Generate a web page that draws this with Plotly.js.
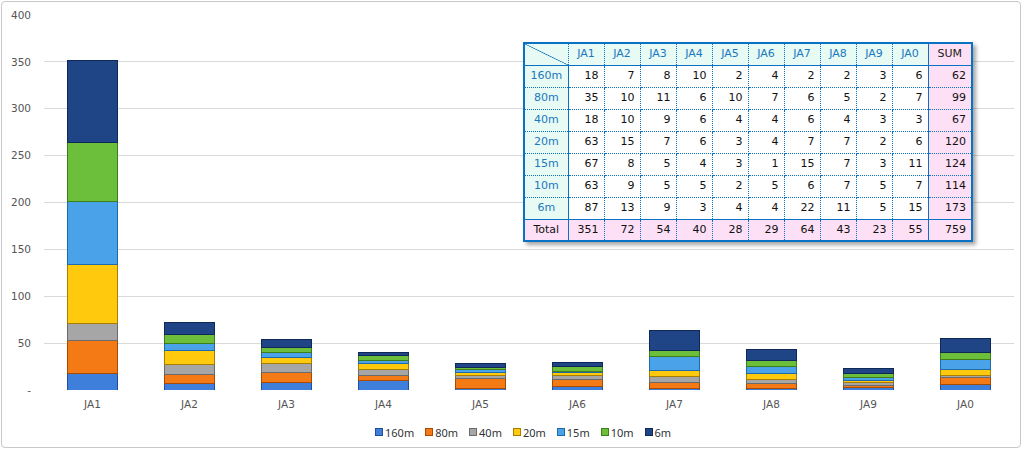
<!DOCTYPE html>
<html>
<head>
<meta charset="utf-8">
<script src="https://cdn.plot.ly/plotly-3.0.1.min.js"></script>
<style>
  html, body { margin:0; padding:0; background:#fff; }
  #wrap { position:relative; width:1024px; height:451px; overflow:hidden; }
  #frame { position:absolute; left:1px; top:1px; width:1020px; height:447px; border:1px solid #c8c8c8; border-radius:4px; box-sizing:border-box; pointer-events:none; }
  #chart { position:absolute; left:0; top:0; width:1024px; height:451px; }
  #tbl { position:absolute; left:523px; top:42px; width:448px; border-collapse:collapse; table-layout:fixed;
         font-family:"DejaVu Sans", Verdana, sans-serif; font-size:11px; box-shadow:3px 3px 4px rgba(0,0,0,0.35); background:#fff;
         border:2px solid #0a72c4; }
  #tbl tr { height:22px; }
  #tbl td { border:1px dotted #0a72c4; padding:0 5px; height:20px; line-height:12px; text-align:right; color:#111; white-space:nowrap; box-sizing:border-box; }
  #tbl td.hd { background:#e8faf4; color:#1a78c0; text-align:center; }
  #tbl tr.top td { border-bottom:1.5px solid #0a72c4; }
  #tbl td.rh { background:#e8faf4; color:#1a78c0; text-align:center; border-right:1.5px solid #0a72c4; }
  #tbl td.sum { background:#fde0f6; border-left:1.5px solid #0a72c4; }
  #tbl td.sumh { background:#fde0f6; color:#222; text-align:center; border-left:1.5px solid #0a72c4; }
  #tbl tr.tot td { background:#fde0f6; border-top:1.5px solid #0a72c4; }
  #tbl tr.tot td.rh { color:#111; }
  #tbl td.corner { background-color:#e8faf4;
     background-image:linear-gradient(to top right, transparent calc(50% - 0.7px), #0a72c4 50%, transparent calc(50% + 0.7px)); }
  #legend { position:absolute; left:375px; top:425px; height:14px; display:flex; align-items:center;
            font-family:"Noto Sans", "DejaVu Sans", sans-serif; font-size:11px; color:#333; white-space:nowrap; }
  #legend .it { display:flex; align-items:center; margin-right:11px; }
  #legend .sw { width:8px; height:8px; margin-right:2px; box-sizing:border-box; border:1px solid; }
</style>
</head>
<body>
<div id="wrap">
  <div id="chart"></div>
  <table id="tbl"></table>
  <div id="legend"></div>
  <div id="frame"></div>
</div>
<script>
// ---- data ----
var stations = ["JA1","JA2","JA3","JA4","JA5","JA6","JA7","JA8","JA9","JA0"];
var bands = ["160m","80m","40m","20m","15m","10m","6m"];
var v160 = [18, 7, 8,10, 2, 4, 2, 2, 3, 6];
var v80  = [35,10,11, 6,10, 7, 6, 5, 2, 7];
var v40  = [18,10, 9, 6, 4, 4, 6, 4, 3, 3];
var v20  = [63,15, 7, 6, 3, 4, 7, 7, 2, 6];
var v15  = [67, 8, 5, 4, 3, 1,15, 7, 3,11];
var v10  = [63, 9, 5, 5, 2, 5, 6, 7, 5, 7];
var v6   = [87,13, 9, 3, 4, 4,22,11, 5,15];
var yTickVals = [0,50,100,150,200,250,300,350,400];
var yTickText = ["-","50","100","150","200","250","300","350","400"];

var series = [v160, v80, v40, v20, v15, v10, v6];
var fills = ["#3d7fdb","#f47a16","#a6a6a6","#ffc90e","#4aa3e8","#6cbf3a","#1f4586"];
var lines = ["#1f4f9a","#a84a00","#6a6a6a","#a87e00","#1f6aa8","#3f7d1a","#0f2858"];

var traces = bands.map(function(b, i){
  return {
    type:"bar", name:b, x:stations, y:series[i],
    marker:{color:fills[i], line:{color:lines[i], width:1}},
    hoverinfo:"x+y+name"
  };
});

var tf = {family:"DejaVu Sans, Verdana, sans-serif", size:10.5, color:"#555"};
var layout = {
  width:1024, height:451,
  margin:{l:44, r:10, t:15, b:61},
  barmode:"stack", bargap:0.49,
  paper_bgcolor:"#fff", plot_bgcolor:"#fff",
  font:tf,
  showlegend:false,
  xaxis:{type:"category", showgrid:false, showline:false, ticks:"", ticklen:0,
         automargin:false, tickfont:tf, ticklabelstandoff:6},
  yaxis:{range:[0,400], tickvals:yTickVals, ticktext:yTickText, showgrid:true,
         gridcolor:"#d9d9d9", gridwidth:1, zeroline:false, showline:false, ticks:"",
         automargin:false, ticklabelstandoff:12, tickfont:tf}
};

Plotly.newPlot("chart", traces, layout, {displayModeBar:false, staticPlot:true});

// ---- legend built from the arrays ----
var lg = document.getElementById("legend");
lg.innerHTML = bands.map(function(b, i){
  return '<div class="it"><div class="sw" style="background:'+fills[i]+';border-color:'+lines[i]+'"></div>'+b+'</div>';
}).join("");

// ---- summary table built from the arrays ----
var tbl = document.getElementById("tbl");
var html = '<colgroup><col style="width:44px">';
stations.forEach(function(){ html += '<col style="width:36px">'; });
html += '<col style="width:44px"></colgroup>';
html += '<tr class="top"><td class="corner"></td>';
stations.forEach(function(s){ html += '<td class="hd">'+s+'</td>'; });
html += '<td class="sumh">SUM</td></tr>';
var totals = stations.map(function(){ return 0; });
var grand = 0;
bands.forEach(function(b, i){
  html += '<tr><td class="rh">'+b+'</td>';
  var s = 0;
  series[i].forEach(function(v, j){ html += '<td>'+v+'</td>'; s += v; totals[j] += v; });
  grand += s;
  html += '<td class="sum">'+s+'</td></tr>';
});
html += '<tr class="tot"><td class="rh">Total</td>';
totals.forEach(function(t){ html += '<td>'+t+'</td>'; });
html += '<td class="sum">'+grand+'</td></tr>';
tbl.innerHTML = html;
</script>
</body>
</html>
